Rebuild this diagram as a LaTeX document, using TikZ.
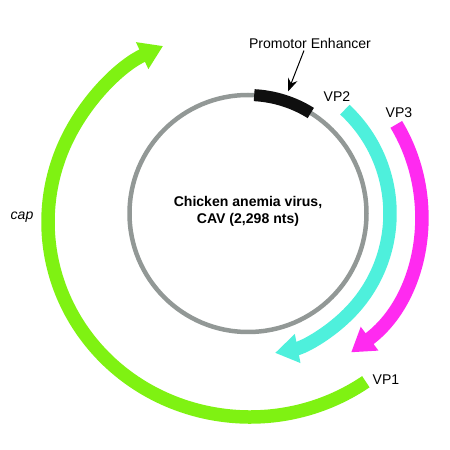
\documentclass[tikz,border=0pt]{standalone}
\usepackage{fontspec}
\setmainfont{Liberation Sans}
\usetikzlibrary{arrows.meta,positioning}
\definecolor{capgreen}{RGB}{127,242,18}
\definecolor{vptwo}{RGB}{78,240,220}
\definecolor{vpthree}{RGB}{255,42,240}
\definecolor{genome}{RGB}{146,152,150}
\begin{document}
\begin{tikzpicture}
  [every node/.style={font=\fontsize{8}{9.7}\selectfont,inner sep=0pt},
   gene/.style={line width=2.7mm,-{Triangle[length=4.6mm,width=5.6mm]}}]
  \tikzstyle{ring} = [genome,line width=0.9mm]
  \useasboundingbox (0,0) rectangle (9,9);
  \coordinate (c) at (4.96,4.73);
  \coordinate (g) at (5.0,4.56);
  \draw[ring] (c) circle (2.37);
  \draw[line width=2.4mm,black!94] (c) ++(87:2.37) arc[start angle=87,end angle=58,radius=2.37];
  \foreach \col/\r/\from/\to in {vptwo/2.84/47/-79,vpthree/3.46/31/-53.4}
   \draw[gene,\col] (c) ++(\from:\r) arc[start angle=\from,end angle=\to,radius=\r];
  \draw[gene,capgreen] (g) ++(-55:4.04 and 3.9) arc[start angle=-55,end angle=-244.5,x radius=4.04,y radius=3.9];
  \node (cav) at (4.96,4.77) [align=center,font=\fontsize{8}{9.7}\selectfont\bfseries] {Chicken anemia virus,\\CAV (2,298 nts)};
  \node (pe) at (6.2,8.14) {Promotor Enhancer};
  \coordinate (pe tip) at (5.76,7.17);
  \draw[-{Stealth[length=2.6mm,width=2mm]},line width=0.2mm] ([xshift=-0.12cm,yshift=-0.04cm]pe.south) -- (pe tip);
  \node (vp2) at (6.74,7.06) {VP2};
  \node (vp3) at (7.98,6.74) {VP3};
  \node (vp1) at (7.72,1.4) {VP1};
  \node (cap) at (0.44,4.66) {\itshape cap};
\end{tikzpicture}
\end{document}
